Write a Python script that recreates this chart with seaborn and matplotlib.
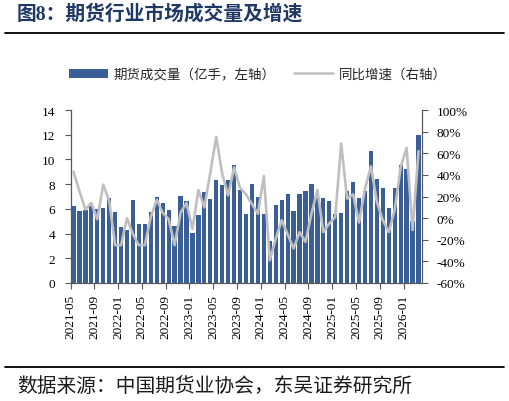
import numpy as np
import pandas as pd
import matplotlib
matplotlib.use("Agg")
import matplotlib.pyplot as plt
import seaborn as sns
from matplotlib.lines import Line2D
from matplotlib.ticker import FixedLocator, FixedFormatter

# ---------------- data ----------------
months = pd.period_range("2021-05", "2026-03", freq="M").strftime("%Y-%m").tolist()

volume = [6.26, 5.80, 5.90, 6.26, 6.00, 6.10, 6.85, 5.77,
          4.50, 4.30, 6.70, 4.77, 4.77, 5.77, 6.93, 6.47, 5.90, 4.60, 7.07, 6.66,
          4.05, 5.50, 7.34, 6.82, 8.36, 7.96, 8.30, 9.55, 7.55, 5.58, 7.98, 6.99,
          5.58, 3.37, 6.31, 6.72, 7.18, 5.80, 7.18, 7.42, 8.01, 6.85, 6.85, 6.60,
          5.58, 5.69, 7.42, 8.15, 6.85, 7.42, 10.66, 8.45, 7.72, 6.07, 7.72, 9.55,
          9.20, 5.04, 11.94]

yoy = [43, 25, 8, 14, -1, 31, 16, -25,
       -25, 0, -15, -25, -25, 1, 17, 5, -1, -25, 5, 14,
       -10, 26, 10, 42, 75, 41, 21, 47, 28, 22, 13, 4,
       39, -39, -19, -2, -15, -28, -13, -22, 4, 26, -13, -5,
       1, 69, 18, 22, -4, 27, 48, 15, -2, -13, 8, 47,
       65, -11, 62]

tick_labels = ["2021-05", "2021-09", "2022-01", "2022-05", "2022-09", "2023-01",
               "2023-05", "2023-09", "2024-01", "2024-05", "2024-09", "2025-01",
               "2025-05", "2025-09", "2026-01"]

left_ticks = [0, 2, 4, 6, 8, 10, 12, 14]
right_ticks = [-60, -40, -20, 0, 20, 40, 60, 80, 100]

title = "图8：期货行业市场成交量及增速"
bar_label = "期货成交量（亿手，左轴）"
line_label = "同比增速（右轴）"
source = "数据来源：中国期货业协会，东吴证券研究所"

# ---------------- style ----------------
sns.set_style("ticks")
plt.rcParams["font.family"] = ["Liberation Serif", "Noto Sans CJK SC", "DejaVu Sans"]
CJK = ["Noto Sans CJK SC", "DejaVu Sans"]

bar_color = "#3A5F96"
line_color = "#BFBFBF"
axis_color = "#595959"
title_color = "#1F3864"

df = pd.DataFrame({"month": months, "volume": volume, "yoy": yoy})

fig = plt.figure(figsize=(5.10, 4.02), dpi=100)
ax = fig.add_axes([70.5 / 510, 1 - 284 / 402, (421.5 - 70.5) / 510, (284 - 111) / 402])

sns.barplot(data=df, x="month", y="volume", order=months, color=bar_color,
            saturation=1, width=0.72, edgecolor="none", ax=ax)

ax2 = ax.twinx()
sns.lineplot(data=df, x="month", y="yoy", color=line_color, lw=1.9,
             sort=False, ax=ax2)

n = len(months)
for a in (ax, ax2):
    a.set_xlim(-0.5, n - 0.5)
    a.set_xlabel("")
    a.set_ylabel("")
    a.grid(False)

ax.set_ylim(0, 14)
ax2.set_ylim(-60, 100)

ax.yaxis.set_major_locator(FixedLocator(left_ticks))
ax.yaxis.set_major_formatter(FixedFormatter([str(v) for v in left_ticks]))
ax2.yaxis.set_major_locator(FixedLocator(right_ticks))
ax2.yaxis.set_major_formatter(FixedFormatter([f"{v}%" for v in right_ticks]))

tick_pos = [i - 0.5 for i in range(0, n, 4)][:len(tick_labels)]
ax.xaxis.set_major_locator(FixedLocator(tick_pos))
ax.xaxis.set_major_formatter(FixedFormatter(tick_labels))
ax.xaxis.set_minor_locator(FixedLocator([]))

for lab in ax.get_xticklabels():
    lab.set_rotation(90)

ax.tick_params(axis="x", length=4, width=0.8, color=axis_color, pad=4,
               labelsize=9.5, labelcolor="#000000")
ax.tick_params(axis="y", length=4, width=0.8, color=axis_color, pad=7,
               labelsize=9.5, labelcolor="#000000")
ax2.tick_params(axis="y", length=4, width=0.8, color=axis_color, pad=7,
                labelsize=9.5, labelcolor="#000000")

for s in ["top", "right"]:
    ax.spines[s].set_visible(False)
for s in ["top", "left", "bottom"]:
    ax2.spines[s].set_visible(False)
for s in ["left", "bottom"]:
    ax.spines[s].set_color(axis_color)
    ax.spines[s].set_linewidth(0.9)
ax2.spines["right"].set_color(axis_color)
ax2.spines["right"].set_linewidth(0.9)

# legend
handles = [ax.patches[0], Line2D([], [], color=line_color, lw=1.8)]
fig.legend(handles=handles, labels=[bar_label, line_label], loc="center",
           bbox_to_anchor=(258 / 510, 1 - 75 / 402), ncol=2, frameon=False,
           prop={"family": CJK, "size": 9.7}, handlelength=2.9,
           handleheight=0.6, handletextpad=0.4, columnspacing=1.4)

# title, rules, source
fig.text(17 / 510, 1 - 15 / 402, title, ha="left", va="center",
         fontsize=14.2, fontweight="bold", color=title_color,
         family=["Liberation Serif", "Noto Sans CJK SC"])
fig.add_artist(Line2D([5 / 510, 504 / 510], [1 - 33.5 / 402] * 2,
                      color="#000000", lw=1.3))
fig.add_artist(Line2D([5 / 510, 504 / 510], [1 - 368 / 402] * 2,
                      color="#000000", lw=1.3))
fig.text(17 / 510, 1 - 387.5 / 402, source, ha="left", va="center",
         fontsize=14.2, color="#1a1a1a", family=CJK)

fig.savefig("out.png", dpi=100)
